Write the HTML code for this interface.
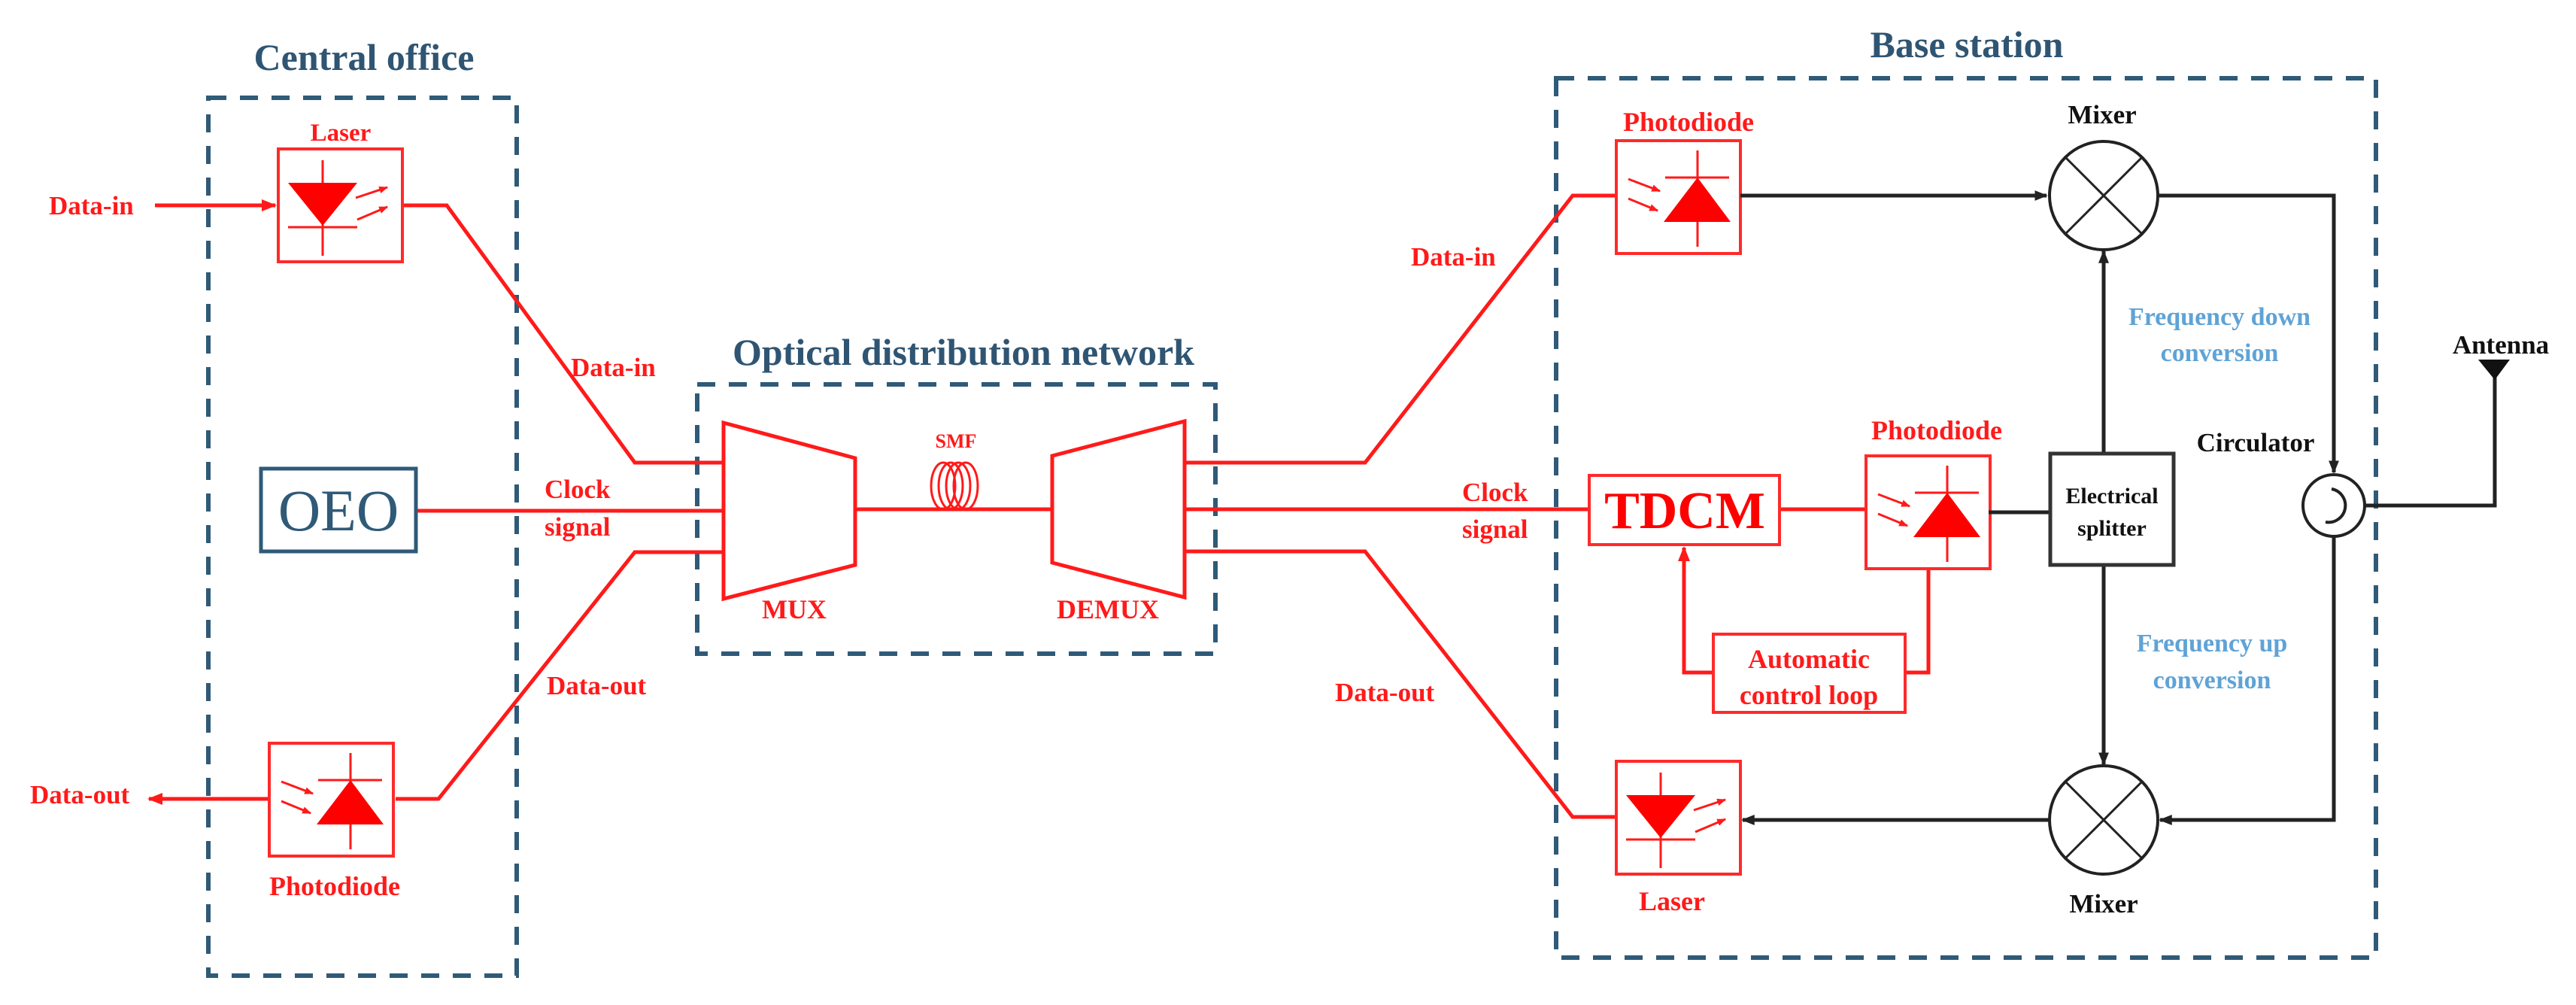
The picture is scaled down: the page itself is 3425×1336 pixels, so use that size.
<!DOCTYPE html>
<html><head><meta charset="utf-8"><style>
html,body{margin:0;padding:0;background:#fff;}
svg{display:block;}
text{font-family:"Liberation Serif",serif;font-weight:bold;}
</style></head><body>
<svg width="3425" height="1336" viewBox="0 0 3425 1336" xmlns="http://www.w3.org/2000/svg">
<defs>
<marker id="ar" viewBox="0 0 10 10" refX="9" refY="5" markerWidth="4" markerHeight="4" orient="auto" markerUnits="strokeWidth"><path d="M0,1 L10,5 L0,9 z" fill="#ff1a1a"/></marker>
<marker id="ab" viewBox="0 0 10 10" refX="9" refY="5" markerWidth="3.5" markerHeight="3.5" orient="auto" markerUnits="strokeWidth"><path d="M0,1 L10,5 L0,9 z" fill="#222"/></marker>
<g id="pd">
<rect x="0" y="0" width="165" height="150" fill="#fff" stroke="#ff2a2a" stroke-width="4"/>
<line x1="108" y1="13" x2="108" y2="141" stroke="#ff1a1a" stroke-width="3"/>
<line x1="65" y1="49" x2="150" y2="49" stroke="#ff1a1a" stroke-width="3"/>
<polygon points="108,49 63,108 152,108" fill="#ff0000"/>
<line x1="16" y1="51" x2="58" y2="67" stroke="#ff1a1a" stroke-width="3" marker-end="url(#ar)"/>
<line x1="16" y1="77" x2="55" y2="93" stroke="#ff1a1a" stroke-width="3" marker-end="url(#ar)"/>
</g>
<g id="ls">
<rect x="0" y="0" width="165" height="150" fill="#fff" stroke="#ff2a2a" stroke-width="4"/>
<line x1="59" y1="15" x2="59" y2="142" stroke="#ff1a1a" stroke-width="3"/>
<polygon points="13,45 105,45 59,102" fill="#ff0000"/>
<line x1="13" y1="104" x2="105" y2="104" stroke="#ff1a1a" stroke-width="3"/>
<line x1="103" y1="65" x2="145" y2="51" stroke="#ff1a1a" stroke-width="3" marker-end="url(#ar)"/>
<line x1="105" y1="94" x2="145" y2="77" stroke="#ff1a1a" stroke-width="3" marker-end="url(#ar)"/>
</g>
</defs>

<!-- dashed boxes -->
<g fill="none" stroke="#2f5a78" stroke-width="6" stroke-dasharray="24,18">
<rect x="277" y="130" width="410" height="1167"/>
<rect x="927" y="511" width="689" height="358"/>
<rect x="2069" y="104" width="1090" height="1169"/>
</g>
<g fill="#2f5573" font-size="50" text-anchor="middle">
<text x="484" y="93">Central office</text>
<text x="1281" y="485">Optical distribution network</text>
<text x="2615" y="76">Base station</text>
</g>

<!-- red lines -->
<g fill="none" stroke="#ff1a1a" stroke-width="5">
<line x1="206" y1="273" x2="366" y2="273" marker-end="url(#ar)"/>
<polyline points="537,273 594,273 844,615 962,615"/>
<line x1="553" y1="679" x2="962" y2="679"/>
<polyline points="962,734 844,734 583,1062 526,1062"/>
<line x1="358" y1="1062" x2="198" y2="1062" marker-end="url(#ar)"/>
<line x1="1137" y1="677" x2="1399" y2="677"/>
<polyline points="1575,615 1815,615 2091,260 2149,260"/>
<line x1="1575" y1="677" x2="2113" y2="677"/>
<polyline points="1575,733 1815,733 2091,1086 2149,1086"/>
<line x1="2366" y1="677" x2="2481" y2="677"/>
<polyline points="2278,894 2239,894 2239,728" marker-end="url(#ar)"/>
<polyline points="2533,894 2564,894 2564,756"/>
</g>

<!-- MUX / DEMUX -->
<g fill="#fff" stroke="#ff1a1a" stroke-width="5">
<polygon points="962,562 1137,609 1137,751 962,796"/>
<polygon points="1399,606 1575,560 1575,794 1399,748"/>
</g>
<!-- SMF coil -->
<g fill="none" stroke="#ff1a1a" stroke-width="3">
<ellipse cx="1254" cy="646" rx="16" ry="31"/>
<ellipse cx="1264" cy="646" rx="16" ry="31"/>
<ellipse cx="1274" cy="646" rx="16" ry="31"/>
<ellipse cx="1284" cy="646" rx="16" ry="31"/>
</g>

<!-- OEO -->
<rect x="347" y="623" width="206" height="110" fill="#fff" stroke="#2f5a78" stroke-width="5"/>
<text x="450" y="705" font-size="78" text-anchor="middle" fill="#2f5a78" style="font-weight:normal">OEO</text>

<!-- devices -->
<use href="#ls" x="370" y="198"/>
<use href="#pd" x="358" y="988"/>
<use href="#pd" x="2149" y="187"/>
<use href="#pd" x="2481" y="606"/>
<use href="#ls" x="2149" y="1012"/>

<rect x="2113" y="632" width="253" height="92" fill="#fff" stroke="#ff2a2a" stroke-width="4"/>
<text x="2240" y="702" font-size="70" text-anchor="middle" fill="#ff0000">TDCM</text>
<rect x="2278" y="843" width="255" height="104" fill="#fff" stroke="#ff2a2a" stroke-width="4"/>

<!-- black parts -->
<g fill="none" stroke="#222" stroke-width="5">
<line x1="2314" y1="260" x2="2721" y2="260" marker-end="url(#ab)"/>
<polyline points="2868,260 3103,260 3103,628" marker-end="url(#ab)"/>
<line x1="2644" y1="681" x2="2726" y2="681"/>
<line x1="2797" y1="603" x2="2797" y2="334" marker-end="url(#ab)"/>
<line x1="2797" y1="751" x2="2797" y2="1016" marker-end="url(#ab)"/>
<polyline points="3103,714 3103,1090 2872,1090" marker-end="url(#ab)"/>
<line x1="2725" y1="1090" x2="2317" y2="1090" marker-end="url(#ab)"/>
<polyline points="3145,672 3317,672 3317,495"/>
</g>
<polygon points="3295,478 3337,478 3317,505" fill="#111"/>
<g fill="#fff" stroke="#222" stroke-width="4">
<circle cx="2797" cy="260" r="72"/>
<circle cx="2797" cy="1090" r="72"/>
<circle cx="3103" cy="672" r="41"/>
</g>
<g stroke="#222" stroke-width="3">
<line x1="2746" y1="209" x2="2848" y2="311"/><line x1="2848" y1="209" x2="2746" y2="311"/>
<line x1="2746" y1="1039" x2="2848" y2="1141"/><line x1="2848" y1="1039" x2="2746" y2="1141"/>
</g>
<path d="M3100,650 A22,22 0 1 1 3092,694" fill="none" stroke="#222" stroke-width="4"/>
<rect x="2726" y="603" width="164" height="148" fill="#fff" stroke="#333" stroke-width="5"/>

<!-- red labels -->
<g fill="#ff1a1a" font-size="35">
<text x="65" y="285">Data-in</text>
<text x="40" y="1068">Data-out</text>
<text x="759" y="500">Data-in</text>
<text x="724" y="662">Clock</text>
<text x="724" y="712">signal</text>
<text x="727" y="923">Data-out</text>
<text x="1876" y="353">Data-in</text>
<text x="1944" y="666">Clock</text>
<text x="1944" y="715">signal</text>
<text x="1775" y="932">Data-out</text>
</g>
<g fill="#ff1a1a" font-size="36" text-anchor="middle">
<text x="453" y="187" font-size="33">Laser</text>
<text x="445" y="1190">Photodiode</text>
<text x="1056" y="822">MUX</text>
<text x="1473" y="822">DEMUX</text>
<text x="1271" y="595" font-size="26">SMF</text>
<text x="2245" y="174">Photodiode</text>
<text x="2575" y="584">Photodiode</text>
<text x="2223" y="1210">Laser</text>
<text x="2405" y="888">Automatic</text>
<text x="2405" y="936">control loop</text>
</g>
<g fill="#111" text-anchor="middle">
<text x="2795" y="164" font-size="35">Mixer</text>
<text x="2797" y="1213" font-size="35">Mixer</text>
<text x="2999" y="600" font-size="35">Circulator</text>
<text x="3325" y="470" font-size="35">Antenna</text>
<text x="2808" y="669" font-size="30">Electrical</text>
<text x="2808" y="712" font-size="30">splitter</text>
</g>
<g fill="#5fa3d6" font-size="34" text-anchor="middle">
<text x="2951" y="432">Frequency down</text>
<text x="2951" y="480">conversion</text>
<text x="2941" y="866">Frequency up</text>
<text x="2941" y="915">conversion</text>
</g>
</svg>
</body></html>
